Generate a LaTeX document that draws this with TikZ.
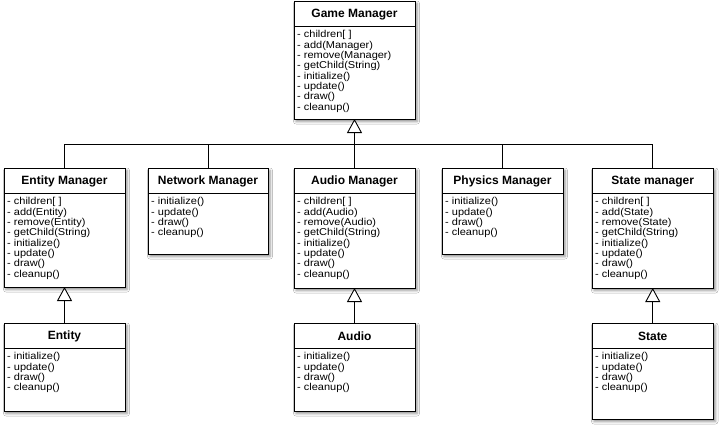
\documentclass[tikz,border=0pt]{standalone}
\usepackage{fontspec}
\setmainfont{Liberation Sans}
\newfontfamily\umlbodyfont[FakeStretch=1.1]{Liberation Sans}
\usetikzlibrary{arrows.meta,shadows.blur}

\tikzset{
 cls/.style={draw, line width=0.9pt, fill=white, anchor=north west, inner sep=0pt, outer sep=0pt,
   blur shadow={shadow xshift=2pt, shadow yshift=-2.5pt, shadow blur radius=2.5pt, shadow opacity=45}},
 ctitle/.style={font=\fontsize{12}{14}\selectfont\bfseries, inner sep=0pt},
 cbody/.style={font=\umlbodyfont\fontsize{10}{10.3}\selectfont, align=left, anchor=north west, inner sep=0pt},
 link/.style={line width=0.9pt},
 inh/.style={link, -{Triangle[length=14pt, width=15pt, fill=white]}},
}

% name, x, y, width, height, title, body
\newcommand\umlbox[7]{%
  \node[cls, minimum width=#4pt, minimum height=#5pt] (#1) at (#2,#3) {};
  \draw[link] ([yshift=-25pt]#1.north west) -- ([yshift=-25pt]#1.north east);
  \node[ctitle] (#1t) at ([yshift=-13.5pt]#1.north) {#6};
  \node[cbody] (#1b) at ([xshift=3pt,yshift=-29.5pt]#1.north west) {#7};
}

\begin{document}
\begin{tikzpicture}[x=1pt,y=-1pt]
\useasboundingbox (0,0) rectangle (724,431);
\fill[white] (0,0) rectangle (724,431);

\umlbox{gm}{294}{1}{121}{118}{Game Manager}{- children[ ]\\- add(Manager)\\- remove(Manager)\\- getChild(String)\\- initialize()\\- update()\\- draw()\\- cleanup()}

\umlbox{em}{4}{168}{121}{119}{Entity Manager}{- children[ ]\\- add(Entity)\\- remove(Entity)\\- getChild(String)\\- initialize()\\- update()\\- draw()\\- cleanup()}
\umlbox{nm}{148}{168}{120}{86}{Network Manager}{- initialize()\\- update()\\- draw()\\- cleanup()}
\umlbox{am}{294}{168}{121}{120}{Audio Manager}{- children[ ]\\- add(Audio)\\- remove(Audio)\\- getChild(String)\\- initialize()\\- update()\\- draw()\\- cleanup()}
\umlbox{pm}{442}{168}{121}{86}{Physics Manager}{- initialize()\\- update()\\- draw()\\- cleanup()}
\umlbox{sm}{592}{168}{121.5}{120}{State manager}{- children[ ]\\- add(State)\\- remove(State)\\- getChild(String)\\- initialize()\\- update()\\- draw()\\- cleanup()}

\umlbox{en}{4}{323}{121}{88}{Entity}{- initialize()\\- update()\\- draw()\\- cleanup()}
\umlbox{au}{294}{323}{121}{88}{Audio}{- initialize()\\- update()\\- draw()\\- cleanup()}
\umlbox{st}{592}{323}{121.5}{96}{State}{- initialize()\\- update()\\- draw()\\- cleanup()}

\coordinate (bus) at (0,144);
\draw[link] (em.north) -- (em.north |- bus) -- (sm.north |- bus) -- (sm.north);
\draw[link] (nm.north) -- (nm.north |- bus);
\draw[link] (pm.north) -- (pm.north |- bus);
\draw[inh] (am.north) -- (gm.south);

\draw[inh] (en.north) -- (em.south);
\draw[inh] (au.north) -- (am.south);
\draw[inh] (st.north) -- (sm.south);
\end{tikzpicture}
\end{document}
